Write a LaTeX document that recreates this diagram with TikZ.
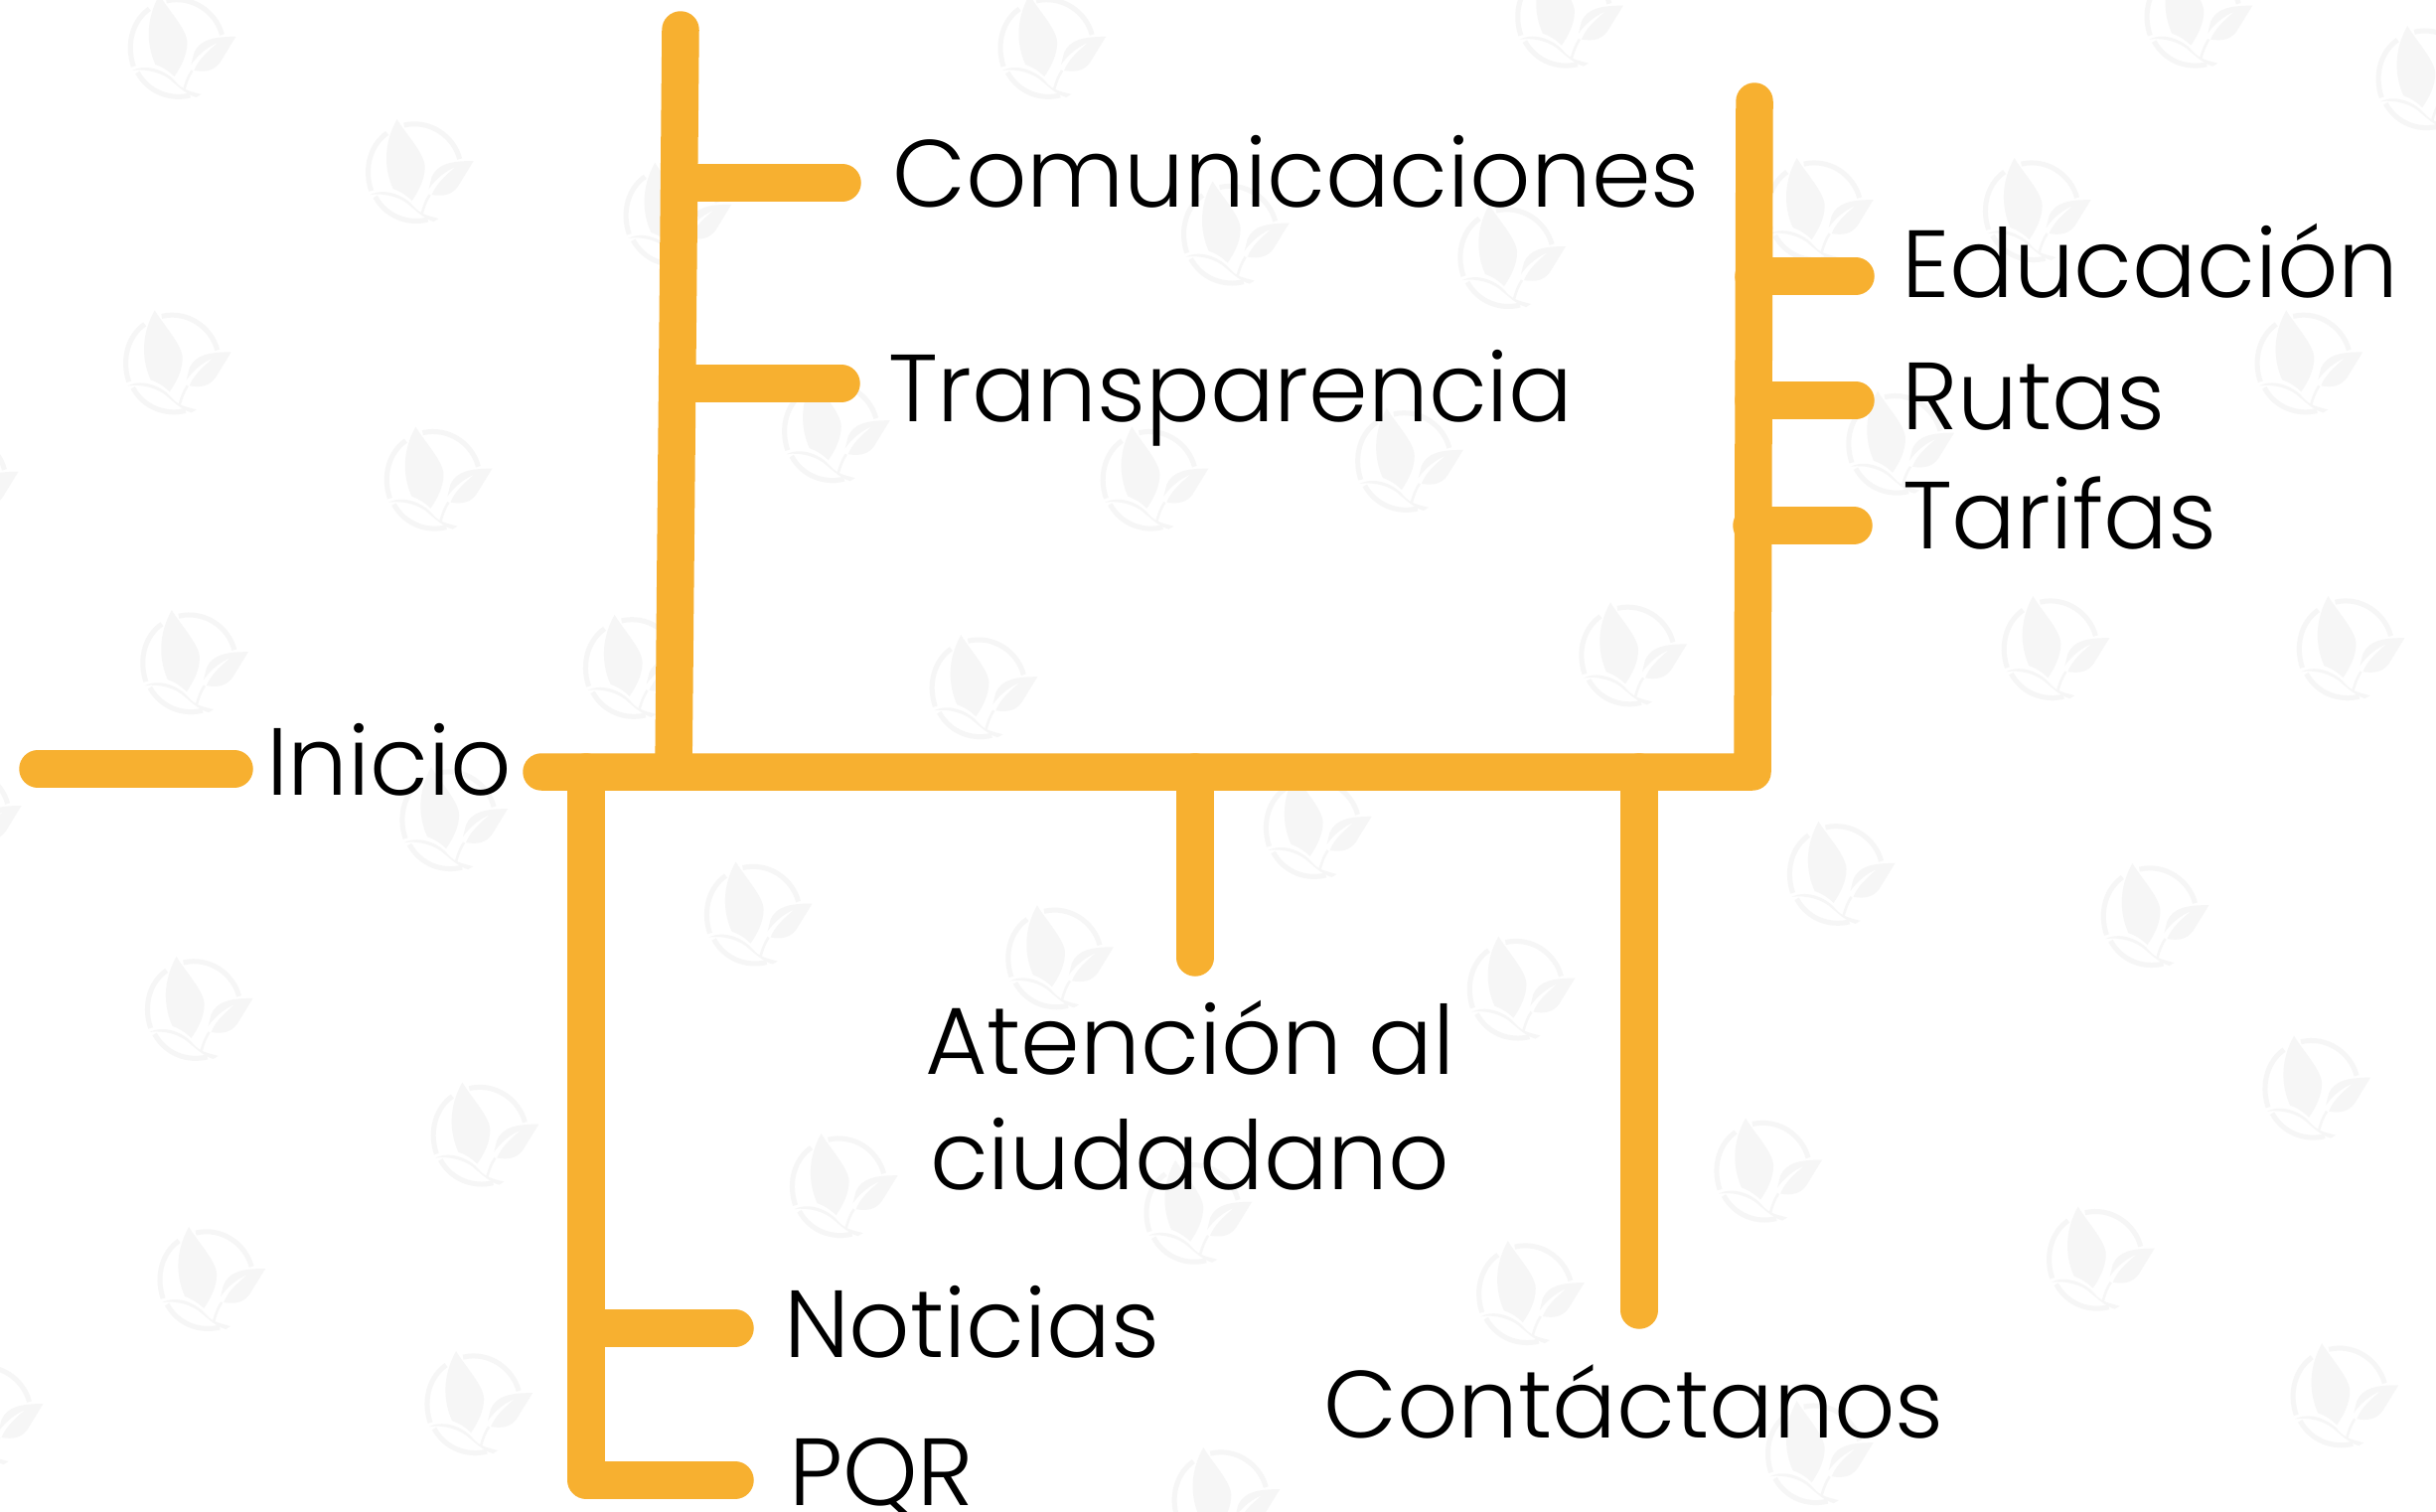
\documentclass[tikz,border=0pt]{standalone}
\usepackage{fontspec}
\setmainfont{Poppins}[UprightFont=* Light]
\definecolor{barcol}{HTML}{F7B030}
\definecolor{markcol}{HTML}{F6F6F6}
\tikzset{
  bar/.style={draw=barcol,line width=37.5pt,line cap=round,line join=round},
  lab/.style={anchor=base west,inner sep=0pt,outer sep=0pt,font=\fontsize{96}{96}\selectfont,text=black},
  logo/.pic={
    \draw[markcol,line width=5pt,line cap=butt] (38,6) .. controls (64,0) and (88,17) .. (94,40);
    \draw[markcol,line width=5pt,line cap=butt] (21,14) .. controls (5,25) and (-3,48) .. (5,72);
    \draw[markcol,line width=5pt,line cap=butt] (9,78) .. controls (20,98) and (42,106) .. (62,101);
    \fill[markcol] (31,0) .. controls (40,15) and (59,35) .. (59,48) .. controls (59,60) and (53,72) .. (46,82) .. controls (40,76) and (33,72) .. (27,70) .. controls (18,50) and (17,25) .. (31,0) -- cycle;
    \fill[markcol] (4,76) .. controls (20,68) and (40,78) .. (48,88) .. controls (55,96) and (62,97) .. (73,100) -- (68,103) .. controls (58,100) and (50,92) .. (45,88) .. controls (35,78) and (18,74) .. (4,76) -- cycle;
    \fill[markcol] (108,42) .. controls (85,42) and (72,45) .. (66,58) -- (63,70) .. controls (70,60) and (80,52) .. (90,48) .. controls (78,58) and (70,66) .. (66,76) .. controls (78,78) and (86,76) .. (92,68) -- cycle;
    \draw[markcol,line width=2.5pt] (64,76) .. controls (60,82) and (58,88) .. (56,95);
  }
}
\begin{document}
\begin{tikzpicture}[x=1pt,y=-1pt]
\useasboundingbox (0,0) rectangle (2452,1521);
\fill[white] (0,0) rectangle (2452,1521);
% watermarks
\foreach \cx/\cy in {116/30,269/110,113/233,281/308,124/426,409/429,632/442,1050/421,1322/417,1512/417,291/527,847/532,1184/562,1386/589,487/588,681/616,978/636,127/649,1490/700,311/730,542/763,1137/753,770/780,984/832,1351/810,135/823,307/903,1508/898,788/965,1170/935,-8/910,-24/310,-22/525,676/30,1009/10,1414/10,1563/50,972/165,794/150,435/138,1170/135,1310/135,1485/233,537/277,742/308,906/296,1222/285}
  \pic at ({\cx*1.5638-52},{\cy*1.5638-52}) {logo};
% junction coordinates
\coordinate (startA) at (38,774);
\coordinate (startB) at (236,774);
\coordinate (mainL) at (545,777);
\coordinate (corner) at (1764,777);
\coordinate (rightTop) at (1766,102);
\coordinate (upTop) at (685,30);
\coordinate (upBase) at (678,777);
\coordinate (c1a) at (690,184);
\coordinate (c1b) at (848,184);
\coordinate (t1a) at (685,386);
\coordinate (t1b) at (847,386);
\coordinate (e1a) at (1765,278);
\coordinate (e1b) at (1868,278);
\coordinate (r1a) at (1765,403);
\coordinate (r1b) at (1868,403);
\coordinate (f1a) at (1763,529);
\coordinate (f1b) at (1866,529);
\coordinate (aBase) at (1203,777);
\coordinate (aEnd) at (1203,964);
\coordinate (cBase) at (1650,777);
\coordinate (cEnd) at (1650,1319);
\coordinate (leftTop) at (590,777);
\coordinate (leftCorner) at (590,1490);
\coordinate (pEnd) at (740,1490);
\coordinate (n1a) at (596,1337);
\coordinate (n1b) at (740,1337);
% bars
\draw[bar] (startA) -- (startB);
\draw[bar] (mainL) -- (corner) -- (rightTop);
\draw[bar] (upBase) -- (upTop);
\draw[bar] (c1a) -- (c1b);
\draw[bar] (t1a) -- (t1b);
\draw[bar] (e1a) -- (e1b);
\draw[bar] (r1a) -- (r1b);
\draw[bar] (f1a) -- (f1b);
\draw[bar] (aBase) -- (aEnd);
\draw[bar] (cBase) -- (cEnd);
\draw[bar] (leftTop) -- (leftCorner) -- (pEnd);
\draw[bar] (n1a) -- (n1b);
% labels
\node[lab] (inicio) at (268,800) {Inicio};
\node[lab] (comu) at (898,208.5) {Comunicaciones};
\node[lab] (trans) at (894,424.5) {Transparencia};
\node[lab] (edu) at (1914,299) {Educación};
\node[lab] (rutas) at (1914,432) {Rutas};
\node[lab] (tarifas) at (1915,552) {Tarifas};
\node[lab] (aten) at (931,1081) {Atención al};
\node[lab] (ciud) at (936,1197) {ciudadano};
\node[lab] (noti) at (789,1366.5) {Noticias};
\node[lab] (pqr) at (794,1515) {PQR};
\node[lab] (conta) at (1332,1447) {Contáctanos};
\end{tikzpicture}
\end{document}
